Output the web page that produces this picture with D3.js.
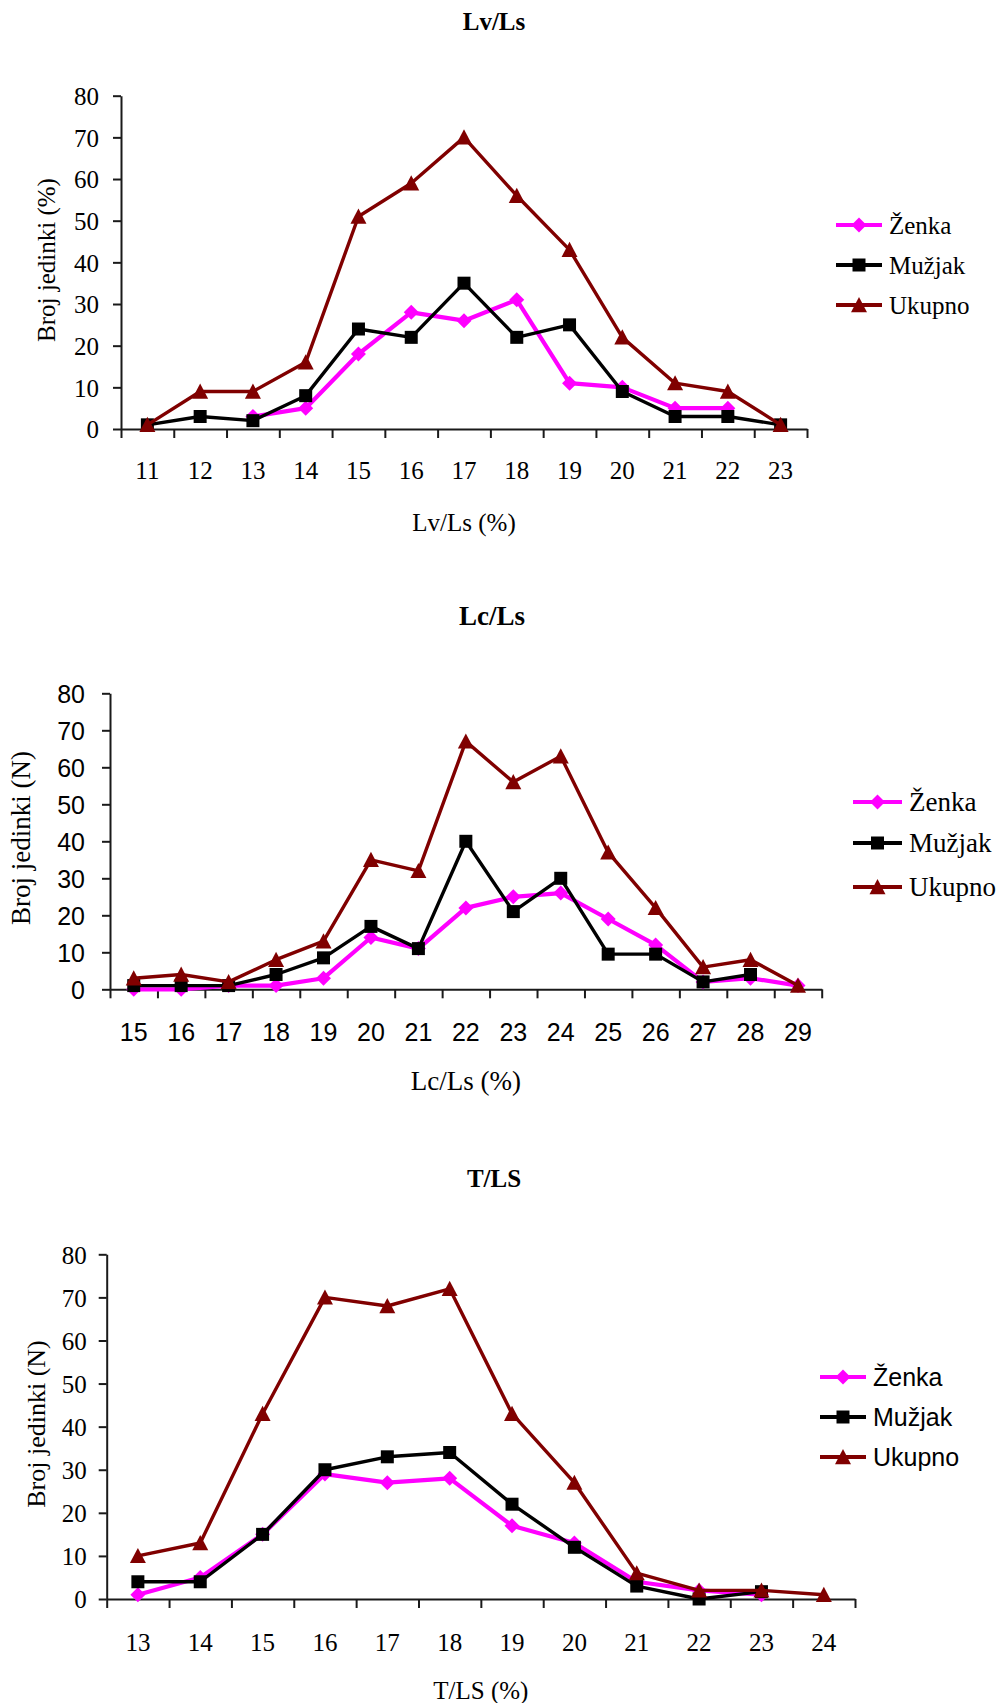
<!DOCTYPE html>
<html>
<head>
<meta charset="utf-8">
<script src="https://cdn.jsdelivr.net/npm/d3@7"></script>
<style>
  html, body { margin: 0; padding: 0; background: #fff; }
  svg { display: block; }
</style>
</head>
<body>
<script>
// ---------- DATA ----------
const yTicks = [0, 10, 20, 30, 40, 50, 60, 70, 80];
const seriesNames = ["Ženka", "Mužjak", "Ukupno"];

// Chart 1: Lv/Ls
const cats1 = ["11","12","13","14","15","16","17","18","19","20","21","22","23"];
const zenka1 = [null, null, 3, 5, 18, 28, 26, 31, 11, 10, 5, 5, null];
const muzjak1 = [1, 3, 2, 8, 24, 22, 35, 22, 25, 9, 3, 3, 1];
const ukupno1 = [1, 9, 9, 16, 51, 59, 70, 56, 43, 22, 11, 9, 1];

// Chart 2: Lc/Ls
const cats2 = ["15","16","17","18","19","20","21","22","23","24","25","26","27","28","29"];
const zenka2 = [0, 0, 1, 1, 3, 14, 11, 22, 25, 26, 19, 12, 2, 3, 1];
const muzjak2 = [1, 1, 1, 4, 8.5, 17, 11, 40, 21, 30, 9.5, 9.5, 2, 4, null];
const ukupno2 = [3, 4, 2, 8, 13, 35, 32, 67, 56, 63, 37, 22, 6, 8, 1];

// Chart 3: T/LS
const cats3 = ["13","14","15","16","17","18","19","20","21","22","23","24"];
const zenka3 = [1, 5, 15, 29, 27, 28, 17, 13, 4, 2, 1, null];
const muzjak3 = [4, 4, 15, 30, 33, 34, 22, 12, 3, 0, 1.7, null];
const ukupno3 = [10, 13, 43, 70, 68, 72, 43, 27, 6, 2, 2, 1];

// ---------- RENDER ----------
const SERIF = "'Liberation Serif','Times New Roman',serif";
const SANS = "'Liberation Sans',Arial,sans-serif";
const colors = ["#FF00FF", "#000000", "#800000"];
const widths = [4.2, 3.4, 3.4];

const diamond = {
  draw(ctx, size) {
    const r = Math.sqrt(size) / 2;
    ctx.moveTo(0, -r); ctx.lineTo(r, 0); ctx.lineTo(0, r); ctx.lineTo(-r, 0); ctx.closePath();
  }
};
const square = {
  draw(ctx, size) {
    const r = Math.sqrt(size) / 2;
    ctx.rect(-r, -r, 2 * r, 2 * r);
  }
};
const triangle = {
  draw(ctx, size) {
    const r = Math.sqrt(size) / 2;
    ctx.moveTo(0, -r); ctx.lineTo(r, r * 0.9); ctx.lineTo(-r, r * 0.9); ctx.closePath();
  }
};
const symbols = [
  d3.symbol().type(diamond).size(15 * 15),
  d3.symbol().type(square).size(13 * 13),
  d3.symbol().type(triangle).size(16 * 16)
];

const svg = d3.select("body").append("svg").attr("width", 1001).attr("height", 1703);

function drawChart(cfg) {
  const g = svg.append("g");
  const n = cfg.cats.length;
  const x = d3.scaleBand().domain(cfg.cats).range([cfg.x0, cfg.x1]).padding(0);
  const xb = d3.scaleLinear().domain([0, n]).range([cfg.x0, cfg.x1]);
  const y = d3.scaleLinear().domain([0, 80]).range([cfg.y0, cfg.yTop]);

  // Y axis
  const ya = g.append("g").attr("transform", `translate(${cfg.x0},0)`)
    .call(d3.axisLeft(y).tickValues(yTicks).tickSize(8).tickSizeOuter(0).tickPadding(cfg.yPad));
  ya.selectAll("text").style("font-family", cfg.tickFont).style("font-size", cfg.tickSize + "px")
    .attr("fill", "#000").attr("dy", "0.35em");

  // X axis: boundary ticks
  g.append("g").attr("transform", `translate(0,${cfg.y0})`)
    .call(d3.axisBottom(xb).tickValues(d3.range(n + 1)).tickSize(9).tickSizeOuter(0).tickFormat(""));
  // X axis: category labels
  const xl = g.append("g").attr("transform", `translate(0,${cfg.y0})`)
    .call(d3.axisBottom(x).tickSize(0).tickPadding(0));
  xl.select(".domain").remove();
  xl.selectAll("text").attr("y", cfg.xLabOff).attr("dy", "0.35em")
    .style("font-family", cfg.tickFont).style("font-size", cfg.xTickSize + "px").attr("fill", "#000");

  g.selectAll(".domain, .tick line").attr("stroke", "#1a1a1a").attr("stroke-width", 2);

  // Series
  const data = [cfg.zenka, cfg.muzjak, cfg.ukupno];
  data.forEach((vals, si) => {
    const pts = vals.map((v, i) => ({ c: cfg.cats[i], v }));
    const line = d3.line().defined(d => d.v != null)
      .x(d => x(d.c) + x.bandwidth() / 2).y(d => y(d.v));
    g.append("path").datum(pts).attr("d", line).attr("fill", "none")
      .attr("stroke", colors[si]).attr("stroke-width", widths[si]).attr("stroke-linejoin", "round");
    g.selectAll(null).data(pts.filter(d => d.v != null)).enter().append("path")
      .attr("d", symbols[si])
      .attr("transform", d => `translate(${x(d.c) + x.bandwidth() / 2},${y(d.v)})`)
      .attr("fill", colors[si]);
  });

  // Title
  g.append("text").attr("x", cfg.titleX).attr("y", cfg.titleY).attr("dy", "0.35em")
    .attr("text-anchor", "middle").style("font-family", SERIF).style("font-weight", "bold")
    .style("font-size", cfg.titleSize + "px").text(cfg.title);

  // Y label
  g.append("text").attr("transform", `translate(${cfg.yLabX},${cfg.yLabY}) rotate(-90)`)
    .attr("text-anchor", "middle").attr("dy", "0.35em")
    .style("font-family", SERIF).style("font-size", cfg.yLabSize + "px").text(cfg.yLabel);

  // X title
  g.append("text").attr("x", (cfg.x0 + cfg.x1) / 2).attr("y", cfg.xTitleY).attr("dy", "0.35em")
    .attr("text-anchor", "middle").style("font-family", SERIF)
    .style("font-size", cfg.xTitleSize + "px").text(cfg.xTitle);

  // Legend
  seriesNames.forEach((name, si) => {
    const ly = cfg.legRows[si];
    g.append("line").attr("x1", cfg.legX0).attr("x2", cfg.legX1).attr("y1", ly).attr("y2", ly)
      .attr("stroke", colors[si]).attr("stroke-width", 4);
    g.append("path").attr("d", symbols[si])
      .attr("transform", `translate(${(cfg.legX0 + cfg.legX1) / 2},${ly})`).attr("fill", colors[si]);
    g.append("text").attr("x", cfg.legTextX).attr("y", ly).attr("dy", "0.35em")
      .style("font-family", cfg.legFont).style("font-size", cfg.legSize + "px").text(name);
  });
}

drawChart({
  cats: cats1, zenka: zenka1, muzjak: muzjak1, ukupno: ukupno1,
  x0: 121, x1: 807, yTop: 95.7, y0: 429,
  tickFont: SERIF, tickSize: 25, xTickSize: 25, yPad: 14, xLabOff: 41,
  title: "Lv/Ls", titleX: 494, titleY: 21, titleSize: 25,
  yLabel: "Broj jedinki (%)", yLabX: 46, yLabY: 260, yLabSize: 25,
  xTitle: "Lv/Ls (%)", xTitleY: 522, xTitleSize: 25,
  legRows: [225, 265, 305], legX0: 836, legX1: 882, legTextX: 889, legFont: SERIF, legSize: 25
});

drawChart({
  cats: cats2, zenka: zenka2, muzjak: muzjak2, ukupno: ukupno2,
  x0: 110, x1: 821.7, yTop: 693.3, y0: 989.3,
  tickFont: SANS, tickSize: 25, xTickSize: 25, yPad: 17, xLabOff: 43,
  title: "Lc/Ls", titleX: 492, titleY: 616, titleSize: 27,
  yLabel: "Broj jedinki (N)", yLabX: 21, yLabY: 838, yLabSize: 27,
  xTitle: "Lc/Ls (%)", xTitleY: 1081, xTitleSize: 27,
  legRows: [802, 843, 887], legX0: 853, legX1: 902, legTextX: 909, legFont: SERIF, legSize: 27
});

drawChart({
  cats: cats3, zenka: zenka3, muzjak: muzjak3, ukupno: ukupno3,
  x0: 106.7, x1: 855, yTop: 1254.3, y0: 1599,
  tickFont: SERIF, tickSize: 25, xTickSize: 25, yPad: 12, xLabOff: 43,
  title: "T/LS", titleX: 494, titleY: 1178, titleSize: 25,
  yLabel: "Broj jedinki (N)", yLabX: 36, yLabY: 1424, yLabSize: 26,
  xTitle: "T/LS (%)", xTitleY: 1690, xTitleSize: 25,
  legRows: [1377, 1417, 1457], legX0: 820, legX1: 866, legTextX: 873, legFont: SANS, legSize: 25
});
</script>
</body>
</html>
